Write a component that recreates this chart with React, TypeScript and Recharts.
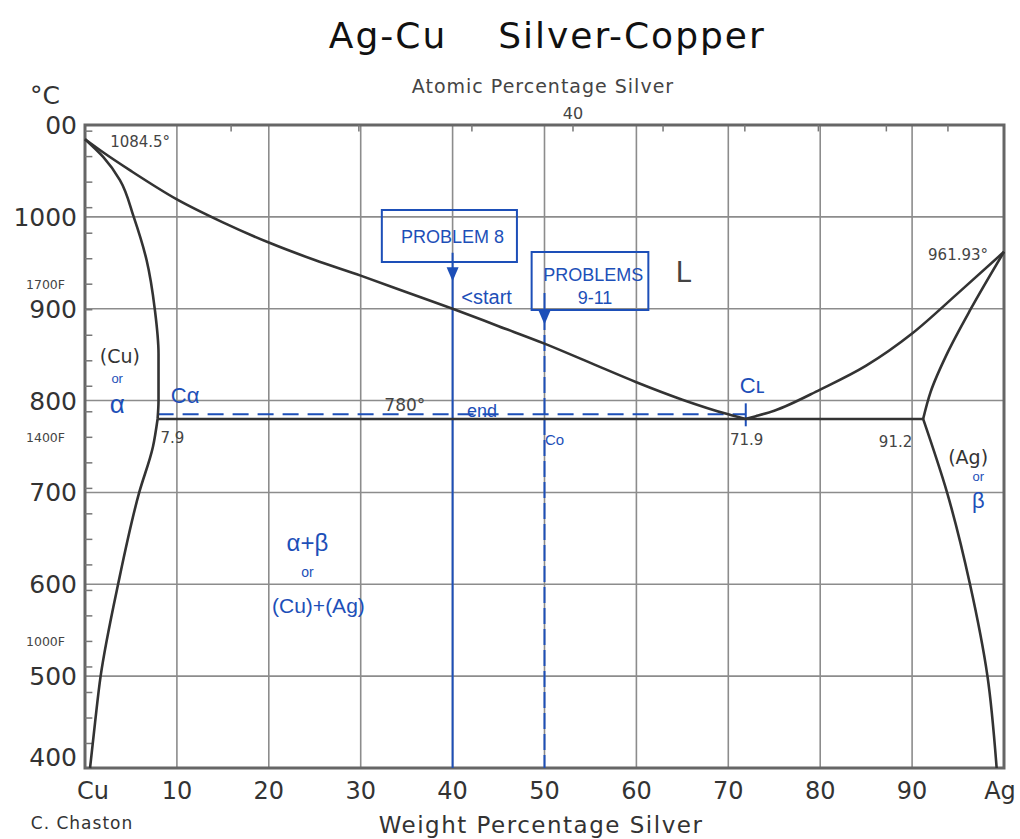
import React from 'react';
import {
  ComposedChart,
  Line,
  XAxis,
  YAxis,
  CartesianGrid,
  ReferenceArea,
  ReferenceLine,
  ReferenceDot,
} from 'recharts';

// weight % silver along the bottom
const WT_TICKS = [0, 10, 20, 30, 40, 50, 60, 70, 80, 90, 100];
const WT_LABELS = ['Cu', '10', '20', '30', '40', '50', '60', '70', '80', '90', 'Ag'];

// temperature, deg C
const TEMP_TICKS = [400, 500, 600, 700, 800, 900, 1000, 1100];
const TEMP_LABELS = ['400', '500', '600', '700', '800', '900', '1000', '00'];

// fahrenheit ticks every 50F (800F..2000F), given in deg C
const F_TICKS_C = [
  426.7, 454.4, 482.2, 510.0, 537.8, 565.6, 593.3, 621.1, 648.9, 676.7, 704.4, 732.2, 760.0,
  787.8, 815.6, 843.3, 871.1, 898.9, 926.7, 954.4, 982.2, 1010.0, 1037.8, 1065.6, 1093.3,
];
const F_LABEL_AT = [926.7, 760.0, 537.8];
const F_LABEL_TEXT = ['1700F', '1400F', '1000F'];

// atomic % silver ticks on top, at their weight % positions
const AT_TICKS_WT = [15.9, 29.8, 42.1, 53.1, 62.9, 71.8, 79.8, 87.2, 93.9];
const AT_LABEL_AT = [53.1];
const AT_LABEL_TEXT = ['40'];

// phase boundaries (x = wt% Ag, t = deg C)
const liquidusCu = [
  { x: 0, t: 1084.5 }, { x: 2, t: 1070 }, { x: 5, t: 1050 }, { x: 10, t: 1019 },
  { x: 15, t: 994 }, { x: 20, t: 972 }, { x: 25, t: 953 }, { x: 30, t: 936 },
  { x: 35, t: 918 }, { x: 40, t: 900 }, { x: 45, t: 881 }, { x: 50, t: 862 },
  { x: 55, t: 841 }, { x: 60, t: 820 }, { x: 65, t: 801 }, { x: 70, t: 785 },
  { x: 71.9, t: 780 },
];
const liquidusAg = [
  { x: 71.9, t: 780 }, { x: 73, t: 783 }, { x: 75, t: 789 }, { x: 80, t: 812 },
  { x: 85, t: 838 }, { x: 90, t: 873 }, { x: 95, t: 917 }, { x: 100, t: 961.93 },
];
const solidusCu = [
  { x: 0, t: 1084.5 }, { x: 2, t: 1065 }, { x: 3.8, t: 1040 }, { x: 5.3, t: 1000 },
  { x: 6.7, t: 953 }, { x: 7.6, t: 899 }, { x: 8.0, t: 851 }, { x: 8.0, t: 800 },
  { x: 7.9, t: 780 },
];
const solvusCu = [
  { x: 7.9, t: 780 }, { x: 7.4, t: 750 }, { x: 5.9, t: 700 }, { x: 3.6, t: 600 },
  { x: 1.7, t: 500 }, { x: 1.1, t: 450 }, { x: 0.55, t: 400 },
];
const solidusAg = [
  { x: 100, t: 961.93 }, { x: 96.4, t: 900 }, { x: 93.9, t: 853 }, { x: 92, t: 809 },
  { x: 91.2, t: 780 },
];
const solvusAg = [
  { x: 91.2, t: 780 }, { x: 93.8, t: 700 }, { x: 96.3, t: 600 }, { x: 98.2, t: 500 },
  { x: 99.2, t: 400 },
];
const eutectic = [{ x: 7.9, t: 780 }, { x: 91.2, t: 780 }];

const INK = '#333';
const GREY = '#444';
const TICK = '#777';
const BLUE = '#1d4fb8';
const FONT = '"DejaVu Sans", sans-serif';
const HAND = '"Liberation Sans", sans-serif';

// printed + handwritten notes, placed in chart coordinates
const notes = [
  { x: 6.0, t: 1081.5, text: '1084.5°', size: 15, color: GREY, font: FONT },
  { x: 95.0, t: 958.5, text: '961.93°', size: 15, color: GREY, font: FONT },
  { x: 34.8, t: 795, text: '780°', size: 17, color: GREY, font: FONT },
  { x: 9.5, t: 760, text: '7.9', size: 15, color: GREY, font: FONT },
  { x: 72.0, t: 757, text: '71.9', size: 15, color: GREY, font: FONT },
  { x: 88.2, t: 755, text: '91.2', size: 15, color: GREY, font: FONT },
  { x: 65.1, t: 940, text: 'L', size: 28, color: GREY, font: FONT },
  { x: 3.8, t: 848, text: '(Cu)', size: 19, color: INK, font: FONT },
  { x: 96.1, t: 738, text: '(Ag)', size: 19, color: INK, font: FONT },
  { x: 3.5, t: 824, text: 'or', size: 13, color: BLUE, font: HAND },
  { x: 3.5, t: 797, text: 'α', size: 26, color: BLUE, font: HAND },
  { x: 97.2, t: 717, text: 'or', size: 13, color: BLUE, font: HAND },
  { x: 97.2, t: 692, text: 'β', size: 22, color: BLUE, font: HAND },
  { x: 10.9, t: 806, text: 'Cα', size: 22, color: BLUE, font: HAND },
  { x: 72.6, t: 817, text: 'Cʟ', size: 22, color: BLUE, font: HAND },
  { x: 51.1, t: 757, text: 'Co', size: 15, color: BLUE, font: HAND },
  { x: 43.7, t: 913, text: '<start', size: 20, color: BLUE, font: HAND },
  { x: 43.2, t: 789, text: 'end', size: 18, color: BLUE, font: HAND },
  { x: 40.0, t: 978, text: 'PROBLEM 8', size: 18, color: BLUE, font: HAND },
  { x: 55.3, t: 937, text: 'PROBLEMS', size: 18, color: BLUE, font: HAND },
  { x: 55.5, t: 912, text: '9-11', size: 18, color: BLUE, font: HAND },
  { x: 24.2, t: 646, text: 'α+β', size: 24, color: BLUE, font: HAND },
  { x: 24.2, t: 613, text: 'or', size: 14, color: BLUE, font: HAND },
  { x: 25.4, t: 577, text: '(Cu)+(Ag)', size: 21, color: BLUE, font: HAND },
];

const BottomTick = ({ x, payload }: any) => {
  const i = WT_TICKS.indexOf(payload.value);
  const dx = i === 0 ? 8 : i === WT_TICKS.length - 1 ? -4 : 0;
  return (
    <text x={x + dx} y={799} textAnchor="middle" fontSize={24} fontFamily={FONT} fill={INK}>
      {WT_LABELS[i]}
    </text>
  );
};

const LeftTick = ({ y, payload }: any) => {
  const i = TEMP_TICKS.indexOf(payload.value);
  const dy = payload.value === 400 ? -11 : 0;
  return (
    <text x={77} y={y + dy + 9} textAnchor="end" fontSize={25} fontFamily={FONT} fill={INK}>
      {TEMP_LABELS[i]}
    </text>
  );
};

const arrowDown = (p: any) => (
  <path
    d={`M${p.cx - 6},${p.cy - 12} L${p.cx + 6},${p.cy - 12} L${p.cx},${p.cy + 2} Z`}
    fill={BLUE}
  />
);

const curve = (data: any[], type: any) => (
  <Line
    data={data}
    dataKey="t"
    type={type}
    stroke={INK}
    strokeWidth={2.6}
    dot={false}
    activeDot={false}
    isAnimationActive={false}
  />
);

const abs = (left: number, top: number, size: number, color: string, extra: any = {}) => ({
  position: 'absolute' as const,
  left,
  top,
  transform: 'translate(-50%, -50%)',
  fontSize: size,
  color,
  fontFamily: FONT,
  whiteSpace: 'nowrap' as const,
  ...extra,
});

export default function App() {
  return (
    <div style={{ position: 'absolute', left: 0, top: 0, width: 1020, height: 839, background: '#fff' }}>
      <div style={abs(388, 35, 36, '#111', { letterSpacing: 2 })}>Ag-Cu</div>
      <div style={abs(632, 35, 36, '#111', { letterSpacing: 2 })}>Silver-Copper</div>
      <div style={abs(543, 86, 19, GREY, { letterSpacing: 1 })}>Atomic Percentage Silver</div>
      <div style={abs(45, 95, 25, INK)}>°C</div>
      <div style={abs(541, 825, 23, INK, { letterSpacing: 1.5 })}>Weight Percentage Silver</div>
      <div style={abs(82, 823, 17, INK, { letterSpacing: 1 })}>C. Chaston</div>

      <ComposedChart width={1020} height={839} margin={{ top: 125, right: 16, bottom: 0, left: 0 }}>
        <CartesianGrid stroke="#8c8c8c" strokeWidth={1.6} />
        <XAxis
          type="number"
          dataKey="x"
          domain={[0, 100]}
          ticks={WT_TICKS}
          interval={0}
          height={71}
          axisLine={false}
          tickLine={false}
          tick={<BottomTick />}
        />
        <YAxis
          type="number"
          domain={[400, 1100]}
          ticks={TEMP_TICKS}
          interval={0}
          width={85}
          axisLine={false}
          tickLine={false}
          tick={<LeftTick />}
        />

        {/* fahrenheit ticks inside the left edge */}
        {F_TICKS_C.map((c) => (
          <ReferenceLine
            key={`f${c}`}
            segment={[{ x: 0, y: c }, { x: 0.8, y: c }]}
            stroke={TICK}
            strokeWidth={1.5}
          />
        ))}
        {F_LABEL_AT.map((c, i) => (
          <ReferenceDot
            key={`fl${c}`}
            x={0}
            y={c}
            r={0}
            fill="none"
            stroke="none"
            label={{ value: F_LABEL_TEXT[i], position: 'left', offset: 20, fill: GREY, fontSize: 12.5, fontFamily: FONT }}
          />
        ))}

        {/* atomic % ticks inside the top edge */}
        {AT_TICKS_WT.map((w) => (
          <ReferenceLine
            key={`a${w}`}
            segment={[{ x: w, y: 1100 }, { x: w, y: 1093 }]}
            stroke={TICK}
            strokeWidth={1.5}
          />
        ))}
        {AT_LABEL_AT.map((w, i) => (
          <ReferenceDot
            key={`al${w}`}
            x={w}
            y={1100}
            r={0}
            fill="none"
            stroke="none"
            label={{ value: AT_LABEL_TEXT[i], position: 'top', offset: 6, fill: GREY, fontSize: 16, fontFamily: FONT }}
          />
        ))}

        {/* handwritten blue marks */}
        <ReferenceArea x1={32.3} x2={47.0} y1={950.8} y2={1007.4} fill="none" stroke={BLUE} strokeWidth={2} />
        <ReferenceArea x1={48.6} x2={61.3} y1={898.5} y2={961.7} fill="none" stroke={BLUE} strokeWidth={2} />
        <ReferenceLine segment={[{ x: 40, y: 961 }, { x: 40, y: 400 }]} stroke={BLUE} strokeWidth={2} />
        <ReferenceLine
          segment={[{ x: 50, y: 917 }, { x: 50, y: 400 }]}
          stroke={BLUE}
          strokeWidth={2}
          strokeDasharray="16 5"
        />
        <ReferenceLine
          segment={[{ x: 7.9, y: 785 }, { x: 71.9, y: 785 }]}
          stroke={BLUE}
          strokeWidth={2}
          strokeDasharray="16 9"
        />
        <ReferenceLine segment={[{ x: 71.9, y: 772 }, { x: 71.9, y: 797 }]} stroke={BLUE} strokeWidth={2} />
        <ReferenceDot x={40} y={932} r={0} shape={arrowDown} />
        <ReferenceDot x={50} y={885} r={0} shape={arrowDown} />

        {curve(liquidusCu, 'monotoneX')}
        {curve(liquidusAg, 'monotoneX')}
        {curve(solidusCu, 'monotoneY')}
        {curve(solvusCu, 'monotoneY')}
        {curve(solidusAg, 'monotoneY')}
        {curve(solvusAg, 'monotoneY')}
        {curve(eutectic, 'linear')}

        {notes.map((n, i) => (
          <ReferenceDot
            key={i}
            x={n.x}
            y={n.t}
            r={0}
            fill="none"
            stroke="none"
            label={{
              value: n.text,
              position: 'center',
              fill: n.color,
              fontSize: n.size,
              fontFamily: n.font,
            }}
          />
        ))}

        <ReferenceArea x1={0} x2={100} y1={400} y2={1100} fill="none" stroke="#666" strokeWidth={3} />
      </ComposedChart>
    </div>
  );
}
